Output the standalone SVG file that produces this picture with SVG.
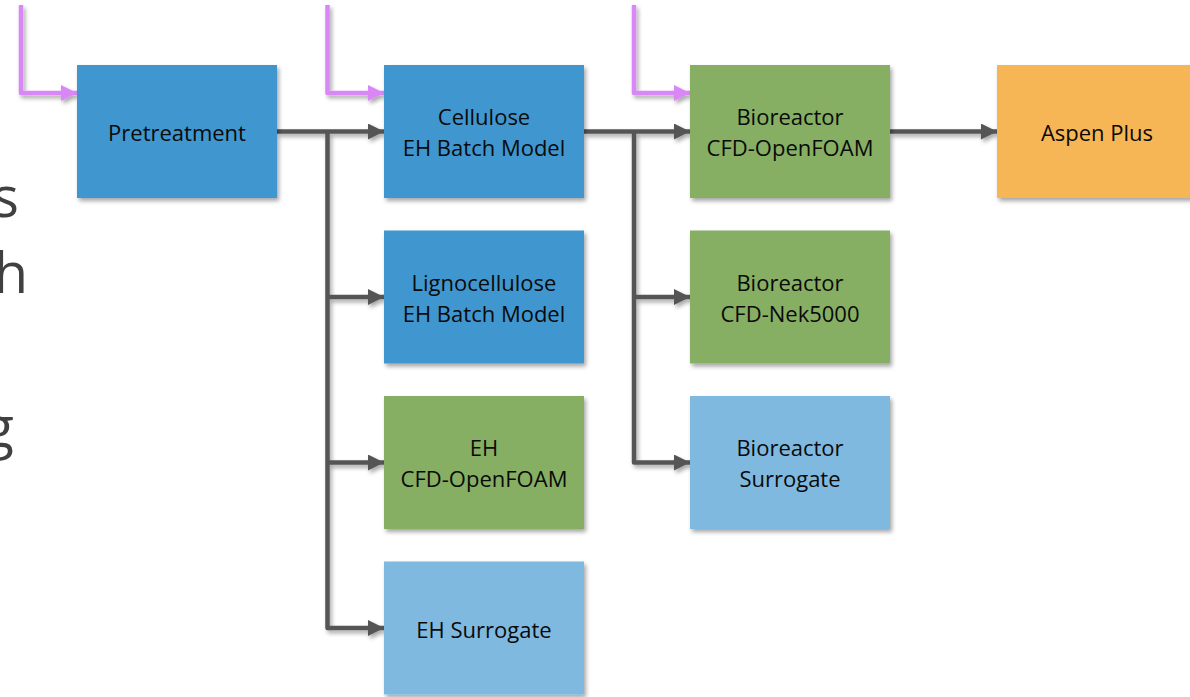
<svg xmlns="http://www.w3.org/2000/svg" width="1190" height="697" viewBox="0 0 1190 697">
<style>
.box{filter:url(#sh)}
.lbl{font-family:"Open Sans","Liberation Sans",sans-serif;font-size:22px;fill:#0a0a0a;text-anchor:middle}
.blue{fill:#3F97D0}
.green{fill:#86AF64}
.lblue{fill:#7FB9DF}
.orange{fill:#F6B655}
.con{fill:none;stroke:#555555;stroke-width:4.5;stroke-linejoin:round}
.pur{fill:none;stroke:#D987F7;stroke-width:4.5;stroke-linejoin:round}
.side{font-family:"Open Sans","Liberation Sans",sans-serif;font-size:56px;fill:#404040;text-anchor:end}
</style>
<defs>
<filter id="sh" x="-10%" y="-10%" width="130%" height="130%">
<feDropShadow dx="2" dy="3" stdDeviation="2" flood-color="#000" flood-opacity="0.35"/>
</filter>
<marker id="ag" viewBox="0 0 16 16" refX="16" refY="8" markerWidth="16" markerHeight="16" markerUnits="userSpaceOnUse" orient="auto">
<path d="M0,0 L16,8 L0,16 Z" fill="#555555"/>
</marker>
<marker id="ap" viewBox="0 0 16 16" refX="16" refY="8" markerWidth="16" markerHeight="16" markerUnits="userSpaceOnUse" orient="auto">
<path d="M0,0 L16,8 L0,16 Z" fill="#D987F7"/>
</marker>
</defs>
<rect width="1190" height="697" fill="#ffffff"/>
<g id="side-text">
<text class="side" x="19" y="217">s</text>
<text class="side" x="28" y="293">h</text>
<text class="side" x="14" y="447">g</text>
</g>
<g id="connectors" filter="url(#sh)">
<path class="pur" d="M21,5 V93 H77" marker-end="url(#ap)"/>
<path class="pur" d="M327.5,5 V93 H384" marker-end="url(#ap)"/>
<path class="pur" d="M634,5 V93 H690" marker-end="url(#ap)"/>
<path class="con" d="M277,131.5 H384" marker-end="url(#ag)"/>
<path class="con" d="M327.5,131.5 V628 H384" marker-end="url(#ag)"/>
<path class="con" d="M327.5,297 H384" marker-end="url(#ag)"/>
<path class="con" d="M327.5,462.5 H384" marker-end="url(#ag)"/>
<path class="con" d="M584,131.5 H690" marker-end="url(#ag)"/>
<path class="con" d="M634,131.5 V462.5 H690" marker-end="url(#ag)"/>
<path class="con" d="M634,297 H690" marker-end="url(#ag)"/>
<path class="con" d="M890,131.5 H997" marker-end="url(#ag)"/>
</g>
<g id="pretreatment"><rect class="box blue" x="77" y="65" width="200" height="133"/><text class="lbl" x="177" y="141">Pretreatment</text></g>
<g id="cellulose"><rect class="box blue" x="384" y="65" width="200" height="133"/><text class="lbl" x="484" y="125">Cellulose</text><text class="lbl" x="484" y="156">EH Batch Model</text></g>
<g id="lignocellulose"><rect class="box blue" x="384" y="230.5" width="200" height="133"/><text class="lbl" x="484" y="290.5">Lignocellulose</text><text class="lbl" x="484" y="321.5">EH Batch Model</text></g>
<g id="eh-cfd"><rect class="box green" x="384" y="396" width="200" height="133"/><text class="lbl" x="484" y="456">EH</text><text class="lbl" x="484" y="487">CFD-OpenFOAM</text></g>
<g id="eh-surrogate"><rect class="box lblue" x="384" y="561.5" width="200" height="133"/><text class="lbl" x="484" y="637.5">EH Surrogate</text></g>
<g id="bio-openfoam"><rect class="box green" x="690" y="65" width="200" height="133"/><text class="lbl" x="790" y="125">Bioreactor</text><text class="lbl" x="790" y="156">CFD-OpenFOAM</text></g>
<g id="bio-nek"><rect class="box green" x="690" y="230.5" width="200" height="133"/><text class="lbl" x="790" y="290.5">Bioreactor</text><text class="lbl" x="790" y="321.5">CFD-Nek5000</text></g>
<g id="bio-surrogate"><rect class="box lblue" x="690" y="396" width="200" height="133"/><text class="lbl" x="790" y="456">Bioreactor</text><text class="lbl" x="790" y="487">Surrogate</text></g>
<g id="aspen"><rect class="box orange" x="997" y="65" width="200" height="133"/><text class="lbl" x="1097" y="141">Aspen Plus</text></g>
</svg>
